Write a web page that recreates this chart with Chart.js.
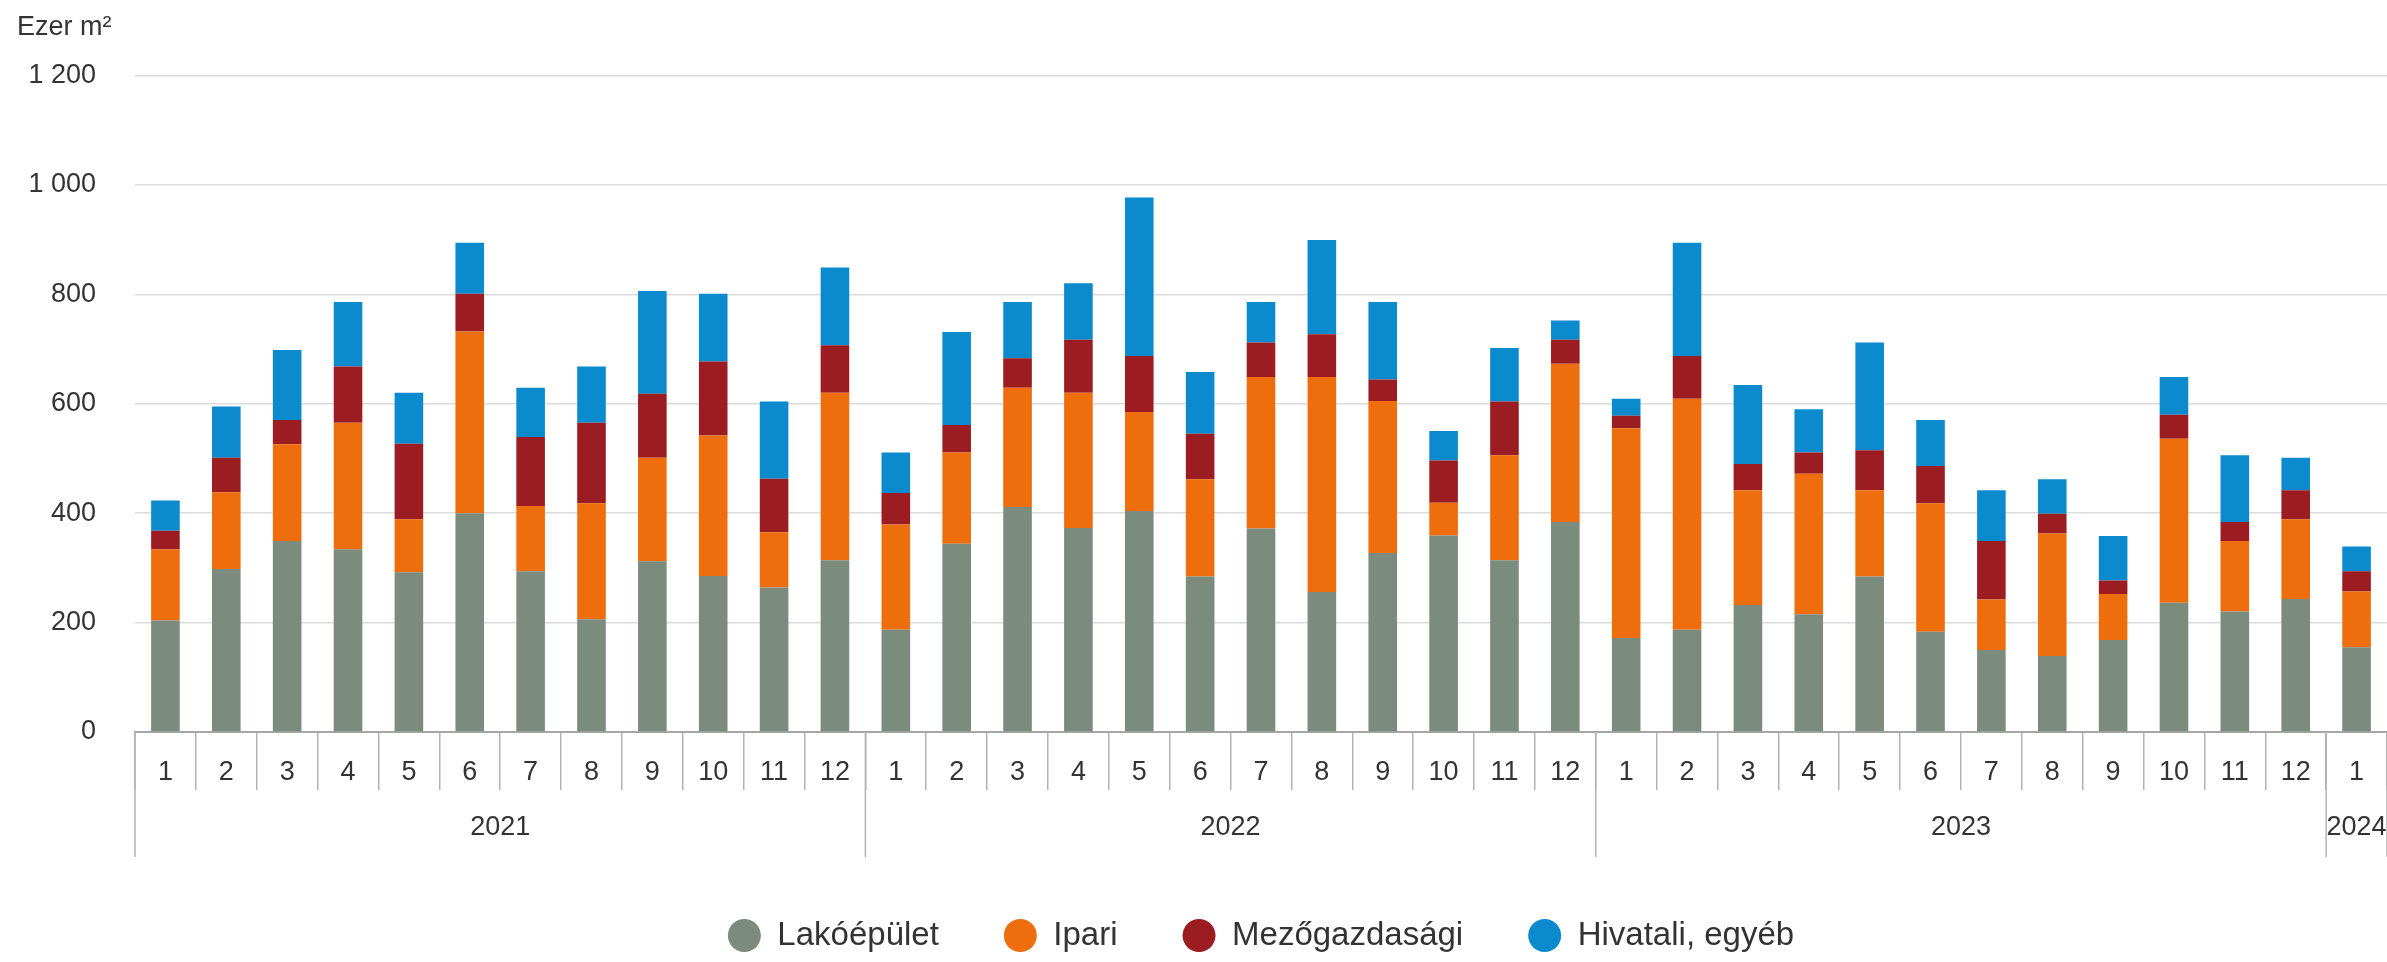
<!DOCTYPE html>
<html lang="hu">
<head>
  <meta charset="UTF-8">
  <title>Épületek alapterülete</title>
  <script src="https://cdn.jsdelivr.net/npm/chart.js"></script>
  <style>
    html, body {
      margin: 0;
      padding: 0;
      background: #ffffff;
      overflow: hidden;
    }
    .chartBox {
      width: 2387px;
      height: 962px;
    }
  </style>
</head>
<body>
  <div class="chartBox">
    <canvas id="buildChart"></canvas>
  </div>

  <script>
    // Months (x axis) and year groups
    const months = [
      '1','2','3','4','5','6','7','8','9','10','11','12',
      '1','2','3','4','5','6','7','8','9','10','11','12',
      '1','2','3','4','5','6','7','8','9','10','11','12',
      '1'
    ];
    const years = ['2021', '2022', '2023', '2024'];
    const monthsPerYear = [12, 12, 12, 1];

    // Ezer m2
    const lakoepulet = [
      204, 298, 349, 334, 292, 400, 294, 206, 312, 285, 264, 314,
      187, 344, 411, 373, 404, 284, 372, 256, 327, 359, 314, 384,
      172, 187, 232, 215, 284, 183, 150, 139, 168, 236, 220, 243,
      155
    ];
    const ipari = [
      130, 140, 177, 231, 97, 332, 119, 212, 189, 257, 101, 306,
      192, 167, 218, 247, 181, 178, 277, 393, 278, 60, 192, 289,
      383, 422, 210, 257, 158, 235, 92, 224, 84, 300, 129, 146,
      102
    ];
    const mezogazdasagi = [
      34, 63, 44, 103, 138, 69, 126, 147, 117, 135, 98, 87,
      58, 50, 54, 97, 102, 83, 63, 78, 39, 77, 98, 44,
      23, 78, 48, 39, 73, 68, 107, 36, 25, 44, 35, 53,
      37
    ];
    const hivatali = [
      55, 94, 128, 118, 93, 93, 90, 103, 188, 124, 141, 142,
      74, 170, 103, 103, 290, 113, 74, 172, 142, 54, 98, 35,
      31, 207, 144, 79, 197, 84, 93, 63, 81, 69, 122, 59,
      45
    ];

    const fontFamily = "Arial, 'Liberation Sans', sans-serif";
    const textColor = '#333333';

    // year labels and the long separators under the month row
    const yearAxisPlugin = {
      id: 'yearAxis',
      afterDraw(chart) {
        const x = chart.scales.x;
        const ctx = chart.ctx;
        const bottom = chart.chartArea.bottom;
        const step = x.width / months.length;
        ctx.save();
        ctx.strokeStyle = '#b3b3b3';
        ctx.lineWidth = 1.5;
        ctx.fillStyle = textColor;
        ctx.font = '27px ' + fontFamily;
        ctx.textAlign = 'center';
        ctx.textBaseline = 'middle';
        let start = 0;
        years.forEach((y, i) => {
          const left = x.getPixelForValue(start) - step / 2;
          const right = x.getPixelForValue(start + monthsPerYear[i] - 1) + step / 2;
          ctx.beginPath();
          ctx.moveTo(left, bottom);
          ctx.lineTo(left, bottom + 125);
          ctx.stroke();
          if (i === years.length - 1) {
            ctx.beginPath();
            ctx.moveTo(right, bottom);
            ctx.lineTo(right, bottom + 125);
            ctx.stroke();
          }
          ctx.fillText(y, (left + right) / 2, bottom + 96);
          start += monthsPerYear[i];
        });
        ctx.restore();
      }
    };

    const ctx = document.getElementById('buildChart').getContext('2d');
    const buildChart = new Chart(ctx, {
      type: 'bar',
      data: {
        labels: months,
        datasets: [
          { label: 'Lakóépület', data: lakoepulet, backgroundColor: '#7b8b7e' },
          { label: 'Ipari', data: ipari, backgroundColor: '#ee6d0c' },
          { label: 'Mezőgazdasági', data: mezogazdasagi, backgroundColor: '#9c1d21' },
          { label: 'Hivatali, egyéb', data: hivatali, backgroundColor: '#0b8bcd' }
        ]
      },
      options: {
        responsive: true,
        maintainAspectRatio: false,
        animation: false,
        datasets: {
          bar: { barPercentage: 0.47, categoryPercentage: 1 }
        },
        layout: { padding: { left: 17, right: 0, top: 0, bottom: 0 } },
        scales: {
          x: {
            stacked: true,
            offset: true,
            grid: {
              display: true,
              offset: true,
              drawOnChartArea: false,
              drawTicks: true,
              tickLength: 58,
              color: '#b3b3b3',
              lineWidth: 1.5
            },
            border: { display: true, color: '#a6a6a6', width: 2 },
            ticks: {
              color: textColor,
              font: { size: 27, family: fontFamily },
              padding: -34,
              maxRotation: 0,
              autoSkip: false
            },
            afterFit(scale) { scale.height = 122; }
          },
          y: {
            stacked: true,
            min: 0,
            max: 1200,
            grid: {
              color: '#dcdcdc',
              lineWidth: 1.5,
              drawTicks: false
            },
            border: { display: false },
            ticks: {
              stepSize: 200,
              color: textColor,
              padding: 39,
              font: { size: 27, family: fontFamily },
              callback: v => String(v).replace(/\B(?=(\d{3})+(?!\d))/g, ' ')
            },
            afterFit(scale) { scale.width = 118; }
          }
        },
        plugins: {
          title: {
            display: true,
            text: 'Ezer m²',
            align: 'start',
            color: textColor,
            font: { size: 27, family: fontFamily, weight: 'normal' },
            padding: { top: 11, bottom: 32 }
          },
          legend: {
            position: 'bottom',
            fullSize: false,
            labels: {
              usePointStyle: true,
              pointStyle: 'circle',
              pointStyleWidth: 33,
              boxHeight: 23.3,
              padding: 65,
              color: textColor,
              font: { size: 33, family: fontFamily }
            }
          },
          tooltip: { enabled: false }
        }
      },
      plugins: [yearAxisPlugin]
    });
  </script>
</body>
</html>
